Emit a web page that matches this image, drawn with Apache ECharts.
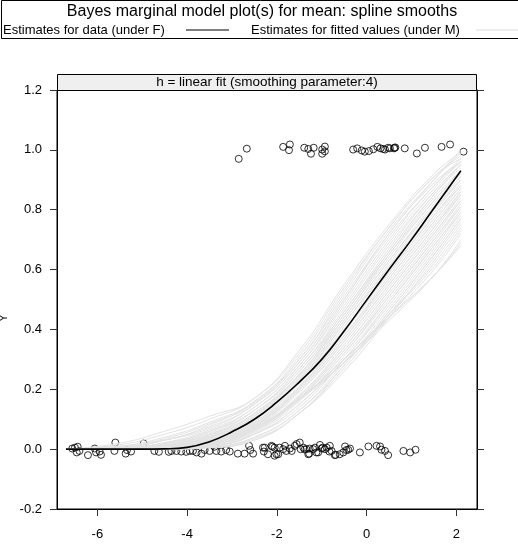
<!DOCTYPE html>
<html>
<head>
<meta charset="utf-8">
<script src="https://cdn.jsdelivr.net/npm/echarts@6/dist/echarts.min.js"></script>
<style>html,body{margin:0;padding:0;background:#fff}#c{width:518px;height:546px}</style>
</head>
<body>
<div id="c"></div>
<script>
// ---------- data ----------
var xTicks = [-6, -4, -2, 0, 2];
var yTicks = [-0.2, 0.0, 0.2, 0.4, 0.6, 0.8, 1.0, 1.2];

var lowX = [-6.56,-6.50,-6.44,-6.46,-6.40,-6.21,-6.06,-6.03,-5.95,-5.92,-5.60,-5.62,-5.37,-5.34,-5.25,-4.97,-4.73,-4.63,-4.41,-4.35,-4.24,-4.13,-4.02,-3.94,-3.87,-3.79,-3.68,-3.61,-3.50,-3.39,-3.35,-3.24,-3.13,-3.05,-2.87,-2.72,-2.62,-2.59,-2.53,-2.31,-2.29,-2.27,-2.20,-2.12,-2.10,-2.05,-2.05,-2.01,-1.97,-1.94,-1.86,-1.82,-1.79,-1.71,-1.67,-1.60,-1.56,-1.49,-1.47,-1.41,-1.38,-1.34,-1.30,-1.28,-1.27,-1.19,-1.15,-1.12,-1.08,-1.04,-1.00,-0.98,-0.93,-0.89,-0.83,-0.82,-0.78,-0.71,-0.69,-0.60,-0.52,-0.48,-0.45,-0.41,-0.37,-0.15,0.04,0.22,0.30,0.33,0.41,0.48,0.82,0.97,1.09];
var lowY = [0.002,0.005,0.008,-0.011,-0.006,-0.020,0.002,-0.011,-0.008,-0.019,0.022,-0.006,-0.015,-0.003,-0.008,0.019,-0.006,-0.009,-0.009,-0.006,-0.006,-0.008,-0.009,-0.006,-0.006,-0.011,-0.015,-0.003,-0.006,0.008,-0.006,-0.008,-0.003,-0.008,-0.015,-0.015,0.011,-0.003,-0.015,0.005,-0.008,0.005,-0.017,0.011,0.008,0.005,-0.022,-0.017,-0.017,0.005,0.000,0.011,-0.006,0.002,-0.006,0.011,0.017,0.022,0.000,0.005,-0.001,0.000,-0.017,-0.015,0.002,0.000,0.005,-0.011,-0.011,0.014,0.002,0.005,0.000,0.005,-0.008,0.011,-0.006,-0.020,-0.019,-0.017,-0.011,0.009,-0.003,-0.002,0.002,-0.011,0.009,0.011,0.009,-0.002,-0.006,-0.020,-0.006,-0.011,-0.002];

var highX = [-2.85,-2.67,-1.86,-1.73,-1.71,-1.39,-1.30,-1.24,-1.18,-0.99,-0.99,-0.93,-0.93,-0.30,-0.21,-0.11,-0.04,0.05,0.15,0.24,0.31,0.37,0.41,0.48,0.52,0.61,0.62,0.64,0.85,1.12,1.30,1.67,1.86,2.16];
var highY = [0.970,1.004,1.010,0.999,1.018,1.007,1.003,0.987,1.007,1.001,0.987,1.011,0.995,1.001,1.005,0.998,0.994,0.996,1.002,1.010,1.005,1.003,1.001,1.007,1.005,1.005,1.007,1.008,1.005,0.988,1.007,1.010,1.018,0.994];

var fitX = [-6.7,-6,-5.5,-5,-4.5,-4,-3.5,-3,-2.5,-2,-1.5,-1,-0.5,0,0.5,1,1.5,2.1];
var fitY = [0,0,0,0,0.001,0.006,0.025,0.058,0.1,0.157,0.224,0.3,0.395,0.498,0.6,0.7,0.805,0.93];

var simX = [-6.7,-5.5,-4.5,-3.5,-2.5,-1.5,-0.5,0.5,1.5,2.1];
var simCurves = [
 [0,0.02,0.06,0.11,0.17,0.33,0.55,0.75,0.92,0.99],
 [0,0.015,0.05,0.10,0.17,0.32,0.54,0.74,0.91,0.97],
 [0,0.01,0.04,0.09,0.16,0.31,0.53,0.74,0.91,0.98],
 [0,0.008,0.035,0.085,0.155,0.30,0.52,0.73,0.90,0.99],
 [0,0.01,0.03,0.08,0.16,0.30,0.51,0.72,0.90,1.00],
 [0,0.006,0.03,0.075,0.15,0.29,0.50,0.72,0.89,0.96],
 [0,0.005,0.03,0.07,0.15,0.29,0.50,0.71,0.88,0.97],
 [0,0.005,0.02,0.06,0.14,0.28,0.49,0.70,0.88,0.96],
 [0,0.004,0.022,0.065,0.14,0.28,0.48,0.69,0.87,0.96],
 [0,0.004,0.02,0.06,0.13,0.27,0.47,0.68,0.86,0.95],
 [0,0.003,0.02,0.05,0.13,0.27,0.46,0.67,0.86,0.95],
 [0,0.003,0.018,0.055,0.13,0.26,0.46,0.66,0.85,0.95],
 [0,0.003,0.015,0.05,0.12,0.26,0.45,0.66,0.85,0.94],
 [0,0.002,0.013,0.048,0.12,0.25,0.45,0.65,0.83,0.93],
 [0,0.002,0.012,0.045,0.12,0.25,0.44,0.65,0.84,0.93],
 [0,0.002,0.01,0.04,0.11,0.25,0.44,0.64,0.83,0.92],
 [0,0.002,0.011,0.042,0.115,0.245,0.43,0.63,0.81,0.91],
 [0,0.002,0.01,0.04,0.11,0.24,0.43,0.63,0.82,0.92],
 [0,0.001,0.008,0.035,0.10,0.23,0.42,0.62,0.81,0.91],
 [0,0.001,0.009,0.037,0.105,0.235,0.42,0.61,0.80,0.90],
 [0,0.001,0.008,0.03,0.10,0.23,0.41,0.61,0.80,0.90],
 [0,0.001,0.006,0.03,0.09,0.22,0.40,0.60,0.79,0.90],
 [0,0.001,0.007,0.032,0.095,0.225,0.40,0.59,0.78,0.88],
 [0,0.001,0.006,0.03,0.09,0.21,0.39,0.59,0.78,0.89],
 [0,0.001,0.005,0.025,0.085,0.21,0.38,0.58,0.77,0.88],
 [0,0.001,0.005,0.027,0.085,0.205,0.38,0.57,0.76,0.87],
 [0,0,0.005,0.025,0.08,0.20,0.37,0.57,0.76,0.87],
 [0,0,0.004,0.02,0.08,0.20,0.37,0.56,0.75,0.86],
 [0,0,0.004,0.02,0.075,0.19,0.36,0.55,0.74,0.86],
 [0,0,0.004,0.022,0.078,0.195,0.36,0.55,0.74,0.85],
 [0,0,0.003,0.02,0.07,0.18,0.35,0.54,0.73,0.85],
 [0,0,0.003,0.018,0.07,0.18,0.34,0.53,0.72,0.84],
 [0,0,0.003,0.018,0.068,0.175,0.34,0.53,0.72,0.83],
 [0,0,0.002,0.015,0.065,0.17,0.33,0.52,0.71,0.83],
 [0,0,0.002,0.015,0.06,0.17,0.33,0.51,0.70,0.82],
 [0,0,0.002,0.014,0.06,0.165,0.32,0.51,0.70,0.81],
 [0,0,0.002,0.012,0.055,0.16,0.32,0.50,0.69,0.81],
 [0,0,0.001,0.01,0.05,0.15,0.31,0.49,0.68,0.80],
 [0,0,0.001,0.01,0.05,0.15,0.30,0.49,0.68,0.79],
 [0,0,0.001,0.01,0.05,0.14,0.30,0.48,0.67,0.79],
 [0,0,0.001,0.008,0.04,0.13,0.29,0.47,0.66,0.78],
 [0,0,0.001,0.007,0.04,0.13,0.28,0.46,0.65,0.77],
 [0,0,0.001,0.006,0.035,0.12,0.28,0.46,0.65,0.77],
 [0,0,0,0.005,0.03,0.12,0.27,0.45,0.64,0.76],
 [0,0,0,0.005,0.03,0.12,0.26,0.44,0.63,0.75],
 [0,0,0.002,0.015,0.065,0.165,0.29,0.45,0.62,0.74],
 [0,0,0.002,0.018,0.07,0.17,0.30,0.45,0.61,0.73],
 [0,0,0.002,0.015,0.07,0.17,0.29,0.44,0.60,0.72],
 [0,0,0.002,0.015,0.07,0.17,0.29,0.43,0.58,0.70],
 [0,0,0.003,0.02,0.075,0.17,0.30,0.44,0.58,0.69],
 [0,0,0.003,0.02,0.07,0.17,0.30,0.44,0.58,0.68]
];

var mainTitle = 'Bayes marginal model plot(s) for mean: spline smooths';
var legendF = 'Estimates for data (under F)';
var legendM = 'Estimates for fitted values (under M)';
var stripLabel = 'h = linear fit (smoothing parameter:4)';
var yName = 'Y';

// ---------- chart ----------
var FONT = '"Liberation Sans", Arial, Helvetica, sans-serif';
function zip(xs, ys) { return xs.map(function (x, i) { return [x, ys[i]]; }); }

var series = [];
series.push({
  type: 'scatter', silent: true, data: zip(lowX, lowY).concat(zip(highX, highY)),
  symbol: 'circle', symbolSize: 7,
  itemStyle: { color: 'rgba(0,0,0,0)', borderColor: '#000', borderWidth: 1 }
});
simCurves.forEach(function (c) {
  series.push({
    type: 'line', silent: true, data: zip(simX, c), symbol: 'none',
    smooth: 0.5,
    lineStyle: { color: '#e3e3e3', width: 1 }
  });
});
series.push({
  type: 'line', silent: true, data: zip(fitX, fitY), symbol: 'none',
  smooth: 0.5,
  lineStyle: { color: '#000', width: 1.6 }
});

var chart = echarts.init(document.getElementById('c'), null, { renderer: 'canvas' });
chart.setOption({
  animation: false,
  backgroundColor: '#fff',
  textStyle: { fontFamily: FONT },
  grid: { left: 57, right: 41, top: 90, bottom: 37, show: true, borderColor: '#000', borderWidth: 1, backgroundColor: 'transparent' },
  xAxis: {
    type: 'value', min: -6.9, max: 2.46,
    axisLine: { show: true, onZero: false, lineStyle: { color: '#000', width: 1 } },
    axisTick: { show: true, length: 7, customValues: xTicks, lineStyle: { color: '#333' } },
    axisLabel: { customValues: xTicks, margin: 19, fontSize: 13, color: '#000', fontFamily: FONT,
                 formatter: function (v) { return String(Math.round(v)); } },
    splitLine: { show: false }
  },
  yAxis: [{
    type: 'value', min: -0.2, max: 1.2, interval: 0.2, position: 'left',
    axisLine: { show: true, onZero: false, lineStyle: { color: '#000', width: 1 } },
    axisTick: { show: true, length: 7, lineStyle: { color: '#333' } },
    axisLabel: { margin: 15, fontSize: 13, color: '#000', fontFamily: FONT,
                 formatter: function (v) { return v.toFixed(1); } },
    splitLine: { show: false }
  }, {
    type: 'value', min: -0.2, max: 1.2, interval: 0.2, position: 'right',
    axisLine: { show: true, onZero: false, lineStyle: { color: '#000', width: 1 } },
    axisTick: { show: true, length: 7, lineStyle: { color: '#333' } },
    axisLabel: { show: false },
    splitLine: { show: false }
  }],
  series: series,
  graphic: [
    { type: 'rect', shape: { x: 1.5, y: 0.5, width: 530, height: 38 }, style: { fill: 'none', stroke: '#000', lineWidth: 1 }, silent: true },
    { type: 'text', x: 262, y: 12, style: { text: mainTitle, font: '16px ' + FONT, fill: '#000', textAlign: 'center', textVerticalAlign: 'middle' }, silent: true },
    { type: 'text', x: 3, y: 30, style: { text: legendF, font: '13px ' + FONT, fill: '#000', textAlign: 'left', textVerticalAlign: 'middle' }, silent: true },
    { type: 'line', shape: { x1: 186, y1: 30, x2: 229, y2: 30 }, style: { stroke: '#000', lineWidth: 1.2 }, silent: true },
    { type: 'text', x: 251, y: 30, style: { text: legendM, font: '13px ' + FONT, fill: '#000', textAlign: 'left', textVerticalAlign: 'middle' }, silent: true },
    { type: 'line', shape: { x1: 476, y1: 30, x2: 520, y2: 30 }, style: { stroke: '#dcdcdc', lineWidth: 1 }, silent: true },
    { type: 'rect', shape: { x: 57.5, y: 74.5, width: 419, height: 16 }, style: { fill: '#efefef', stroke: '#000', lineWidth: 1 }, silent: true },
    { type: 'text', x: 267, y: 82.5, style: { text: stripLabel, font: '13.5px ' + FONT, fill: '#000', textAlign: 'center', textVerticalAlign: 'middle' }, silent: true },
    { type: 'text', x: 4, y: 318, rotation: Math.PI / 2, style: { text: yName, font: '11px ' + FONT, fill: '#000', textAlign: 'center', textVerticalAlign: 'middle' }, silent: true }
  ]
});
</script>
</body>
</html>
